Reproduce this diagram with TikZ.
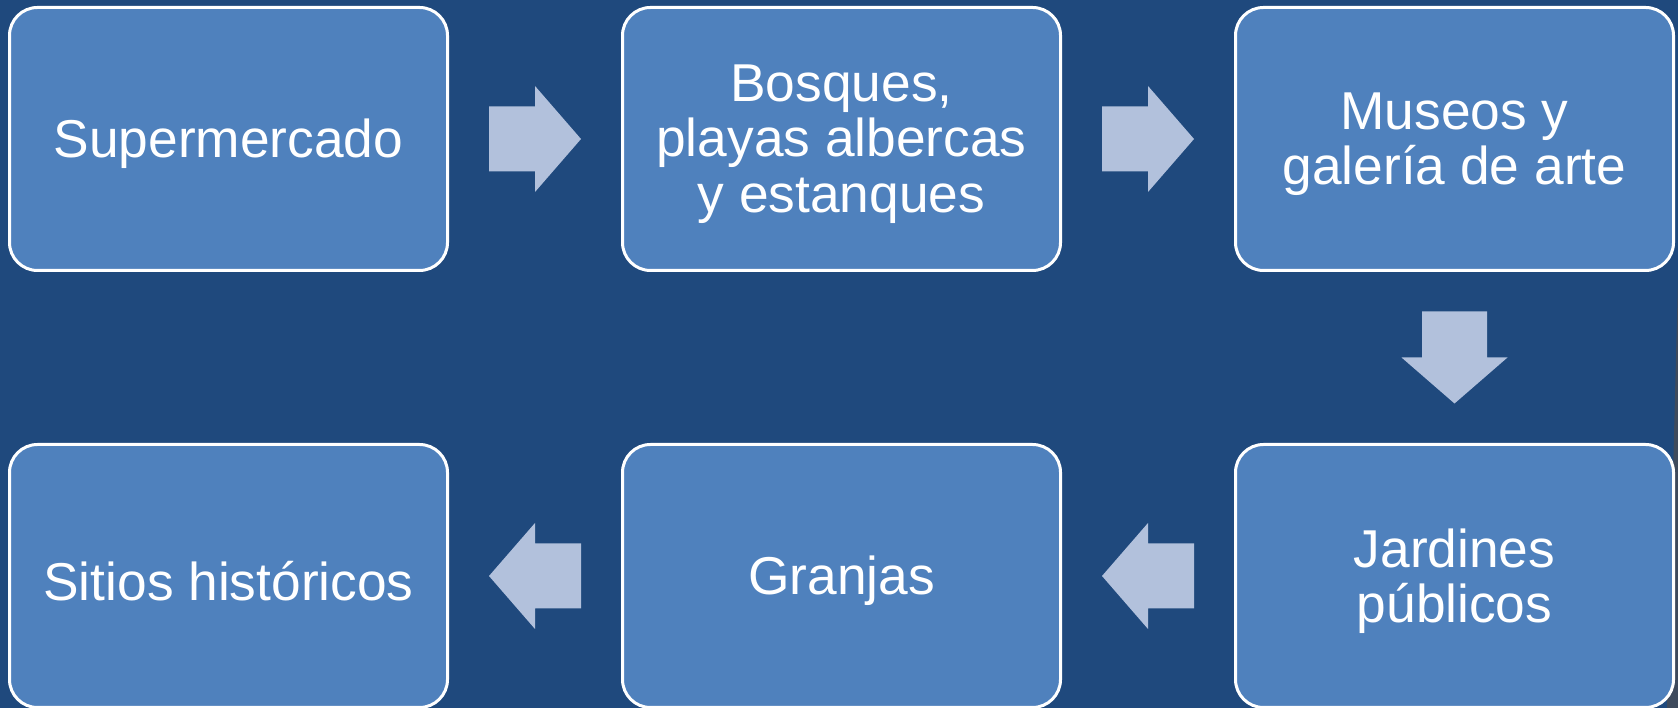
\documentclass[tikz,border=0pt]{standalone}
\usepackage{fontspec}
\setmainfont{Liberation Sans}
\usetikzlibrary{calc}

\definecolor{slidebg}{RGB}{31,73,125}
\definecolor{boxfill}{RGB}{79,129,189}
\definecolor{arrowfill}{RGB}{178,193,220}
\definecolor{edgegray}{RGB}{62,74,92}

\tikzset{
  stage/.style = {draw = white, line width = 3pt, fill = boxfill, rounded corners = 28pt,
    minimum width = 438pt, minimum height = 263pt, inner sep = 0pt},
  stagetext/.style = {align = center, text = white, inner sep = 0pt,
    font = \fontsize{53.3}{55.5}\selectfont},
  blockarrow/.style = {fill = arrowfill, draw = none}
}

\begin{document}
\begin{tikzpicture}[x = 1pt, y = 1pt]
%\draw[very thin, color = gray](0, 0) grid[step = 100] (1678, 708);
\useasboundingbox [fill = slidebg] (0, 0) rectangle (1678, 708);
\fill [edgegray] (1667, 0) -- (1678, 0) -- (1678, 430) -- cycle;
\node [stage] (super) at (228.5, 569) {};
\node [stage] (bosques) at (841.5, 569) {};
\node [stage] (museos) at (1454.5, 569) {};
\node [stage] (jardines) at (1454.5, 132) {};
\node [stage] (granjas) at (841.5, 132) {};
\node [stage] (sitios) at (228.5, 132) {};
\node [stagetext] (super-t) at ([yshift = -5pt]super) {Supermercado};
\node [stagetext] (bosques-t) at ([yshift = -5pt]bosques) {Bosques,\\playas albercas\\y estanques};
\node [stagetext] (museos-t) at ([yshift = -5pt]museos) {Museos y\\galería de arte};
\node [stagetext] (jardines-t) at ([yshift = -5pt]jardines) {Jardines\\públicos};
\node [stagetext] (granjas-t) at ([yshift = -5pt]granjas) {Granjas};
\node [stagetext] (sitios-t) at ([yshift = -5pt]sitios) {Sitios históricos};
\coordinate (a1) at ($(super.east)!0.5!(bosques.west)$);
\coordinate (a2) at ($(bosques.east)!0.5!(museos.west)$);
\coordinate (a3) at ($(museos.south)!0.5!(jardines.north)$);
\coordinate (a4) at ($(jardines.west)!0.5!(granjas.east)$);
\coordinate (a5) at ($(granjas.west)!0.5!(sitios.east)$);
\foreach \p/\r in {a1/0, a2/0, a3/-90, a4/180, a5/180}
  \fill [blockarrow, shift = {(\p)}, rotate = \r]
    (-46, -32.5) -- (0, -32.5) -- (0, -53) -- (46, 0) -- (0, 53) -- (0, 32.5) -- (-46, 32.5) -- cycle;
\end{tikzpicture}
\end{document}
